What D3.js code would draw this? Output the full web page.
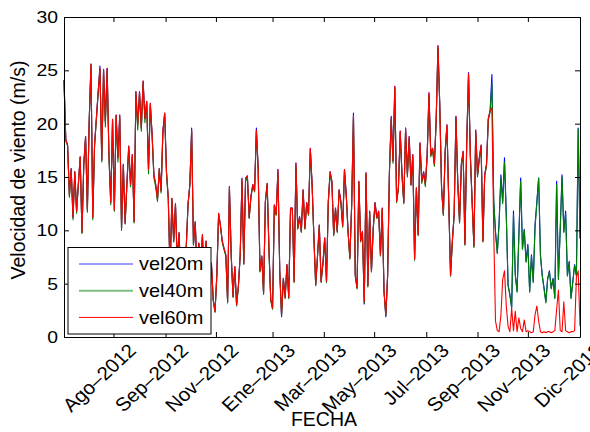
<!DOCTYPE html>
<html>
<head>
<meta charset="utf-8">
<script src="https://cdn.jsdelivr.net/npm/d3@7"></script>
<style>
  body { margin: 0; background: #fff; }
  svg { display: block; font-family: "Liberation Sans", Arial, Helvetica, sans-serif; }
</style>
</head>
<body>
<svg id="chart" width="590" height="432"></svg>
<script>
// daily-ish samples, one every 2 days starting here
const startDate = new Date(Date.UTC(2012, 5, 6));
const stepDays = 2;
const tickDays = [55, 113, 169, 232, 289, 345, 403, 460, 516, 574];
const tickLabels = ["Ago–2012", "Sep–2012", "Nov–2012", "Ene–2013", "Mar–2013",
  "May–2013", "Jul–2013", "Sep–2013", "Nov–2013", "Dic–2013"];
const yTicks = [0, 5, 10, 15, 20, 25, 30];
const seriesNames = ["vel20m", "vel40m", "vel60m"];

const vel20m = [
  24.1,18.5,18.0,13.3,15.8,11.2,15.5,11.8,14.4,16.9,9.8,16.2,18.8,11.9,20.2,25.6,11.2,18.0,20.5,23.0,
  25.4,16.6,25.1,20.2,25.2,17.1,12.6,20.4,11.9,20.8,16.8,20.8,10.2,16.2,10.7,14.4,17.9,14.3,17.1,10.8,
  23.0,19.9,23.0,19.6,24.0,20.5,22.1,15.7,21.9,19.0,15.2,14.3,12.9,15.8,13.7,19.3,21.0,15.5,13.0,6.0,
  13.0,9.0,12.5,7.0,9.8,5.0,8.0,4.0,8.5,12.5,14.3,19.6,8.7,10.8,6.0,8.8,6.5,9.6,5.0,9.0,
  6.0,7.0,6.9,3.5,2.4,5.8,11.6,10.5,9.0,8.3,7.7,3.3,14.1,7.7,3.8,6.6,3.0,4.8,7.7,14.9,
  6.9,14.9,15.1,11.2,13.2,14.3,13.7,19.6,15.8,6.2,7.6,4.1,12.7,14.4,8.2,3.5,2.7,12.4,11.5,15.7,
  6.2,1.9,5.5,3.7,6.8,3.7,12.1,12.1,5.2,16.3,10.2,11.3,9.9,13.8,10.2,12.6,11.5,17.7,14.3,9.3,
  4.9,7.6,10.5,5.2,6.9,9.3,5.2,12.7,15.5,14.6,9.6,12.1,9.9,13.8,12.7,10.4,15.7,13.3,9.9,7.4,
  12.4,21.0,5.8,4.6,14.6,9.0,9.9,3.1,15.4,4.8,11.8,6.2,10.2,12.6,11.2,11.8,7.7,12.1,4.3,1.9,
  5.8,15.5,20.7,16.5,23.5,12.7,14.0,19.3,15.2,12.6,19.6,15.2,18.8,14.3,17.1,7.3,14.0,9.6,18.2,14.6,
  15.5,14.3,17.1,22.9,17.1,17.7,16.2,20.4,27.3,21.8,14.0,11.5,17.4,19.9,12.7,5.8,9.0,11.5,20.7,14.6,
  10.8,16.2,17.4,8.7,18.3,24.8,17.1,12.7,8.5,19.4,15.2,16.8,18.0,9.0,15.2,16.2,20.5,21.2,24.6,12.7,
  9.9,7.9,10.8,15.2,12.7,16.8,11.5,4.9,4.0,2.7,11.8,5.8,4.3,9.6,14.9,8.3,10.1,7.1,8.7,4.3,
  7.7,5.2,10.5,12.7,14.9,7.7,5.8,4.6,3.3,5.5,6.2,4.6,5.5,3.7,14.6,5.5,10.2,15.2,9.9,11.8,
  5.8,7.1,3.7,5.2,6.8,5.8,19.6,9.3
];

const vel40m = [
  24.0,18.4,17.9,13.1,15.7,11.0,15.4,11.6,14.3,16.8,9.7,16.1,18.7,11.7,20.1,25.5,11.0,17.9,20.3,22.8,
  25.1,16.4,24.9,19.7,25.0,16.9,12.4,20.3,11.8,20.7,16.4,20.6,10.0,16.1,10.6,14.3,17.7,14.1,16.9,10.7,
  22.8,19.4,22.9,19.3,23.9,20.1,22.0,15.3,21.7,18.8,14.9,14.1,12.7,15.7,13.5,19.1,20.9,15.3,12.9,5.9,
  12.9,8.9,12.4,6.9,9.7,4.9,7.9,3.9,8.4,12.4,14.2,19.3,8.6,10.7,5.9,8.7,6.4,9.5,4.9,8.9,
  5.9,6.9,6.8,3.4,2.3,5.7,11.5,10.4,8.9,8.2,7.6,3.2,13.9,7.6,3.7,6.5,2.9,4.7,7.6,14.6,
  6.8,14.6,15.0,11.1,13.1,14.2,13.6,19.3,15.7,6.1,7.5,4.0,12.6,14.3,8.1,3.4,2.6,12.3,11.4,15.4,
  6.1,2.0,5.4,3.6,6.7,3.6,12.0,12.0,5.1,16.0,10.1,11.2,9.8,13.7,10.1,12.5,11.4,17.5,14.2,9.2,
  4.8,7.5,10.4,5.1,6.8,9.2,5.1,12.6,15.2,14.5,9.5,12.0,9.8,13.7,12.6,10.3,15.6,13.2,9.8,7.3,
  12.3,20.7,5.7,4.5,14.5,8.9,9.8,3.2,15.3,4.7,11.7,6.1,10.1,12.5,11.1,11.7,7.6,12.0,4.2,2.0,
  5.7,15.3,20.4,16.3,23.3,12.6,13.9,19.1,15.1,12.5,19.4,15.0,18.6,14.2,16.9,7.2,13.9,9.5,18.0,14.4,
  15.3,14.1,16.9,22.7,16.9,17.5,16.0,20.2,27.1,21.6,13.9,11.4,17.3,19.7,12.6,5.7,8.9,11.4,20.5,14.4,
  10.7,16.0,17.2,8.6,18.1,24.5,16.9,12.6,8.4,19.2,15.0,16.6,17.8,8.9,15.1,16.0,20.3,21.1,23.8,12.9,
  9.7,7.8,10.6,14.9,12.5,16.4,11.3,4.8,3.9,2.8,11.5,5.9,4.2,9.4,14.6,8.2,10.0,7.0,8.5,4.2,
  7.6,5.1,10.3,12.5,14.9,7.6,5.7,4.5,3.2,5.4,6.1,4.5,5.4,3.6,14.3,5.4,10.0,15.0,9.8,11.6,
  5.7,7.0,3.6,5.1,6.7,5.7,19.5,9.2
];

const vel60m = [
  24.1,18.5,18.0,13.3,15.8,11.2,15.5,11.8,14.4,16.9,9.8,16.2,18.8,11.9,20.2,25.6,11.2,18.0,20.5,23.0,
  25.2,16.6,25.1,20.2,25.2,17.1,12.6,20.4,11.9,20.8,16.8,20.8,10.2,16.2,10.7,14.4,17.9,14.3,17.1,10.8,
  23.0,19.9,23.0,19.6,24.0,20.5,22.1,15.7,21.9,19.0,15.2,14.3,12.9,15.8,13.7,19.3,21.0,15.5,13.0,6.0,
  13.0,9.0,12.5,7.0,9.8,5.0,8.0,4.0,8.5,12.5,14.3,19.4,8.7,10.8,6.0,8.8,6.5,9.6,5.0,9.0,
  6.0,7.0,6.9,3.5,2.4,5.8,11.6,10.5,9.0,8.3,7.7,3.3,14.1,7.7,3.8,6.6,3.0,4.8,7.7,14.8,
  6.9,14.9,15.1,11.2,13.2,14.3,13.7,19.4,15.8,6.2,7.6,4.1,12.7,14.4,8.2,3.5,2.7,12.4,11.5,15.7,
  6.2,2.1,5.5,3.7,6.8,3.7,12.1,12.1,5.2,16.3,10.2,11.3,9.9,13.8,10.2,12.6,11.5,17.7,14.3,9.3,
  4.9,7.6,10.5,5.2,6.9,9.3,5.2,12.7,15.5,14.6,9.6,12.1,9.9,13.8,12.7,10.4,15.7,13.3,9.9,7.4,
  12.4,20.8,5.8,4.6,14.6,9.0,9.9,3.3,15.4,4.8,11.8,6.2,10.2,12.6,11.2,11.8,7.7,12.1,4.3,2.1,
  5.8,15.5,20.5,16.5,23.5,12.7,14.0,19.3,15.2,12.6,19.6,15.2,18.8,14.3,17.1,7.3,14.0,9.6,18.2,14.6,
  15.5,14.3,17.1,22.9,17.1,17.7,16.2,20.4,27.3,21.8,14.0,11.5,17.4,19.9,12.7,5.8,9.0,11.5,20.7,14.6,
  10.8,16.2,17.4,8.7,18.3,24.7,17.1,12.7,8.5,19.4,15.2,16.8,18.0,9.0,15.2,16.2,20.5,21.2,21.5,10.0,
  1.5,0.6,0.5,2.0,5.4,6.2,2.9,1.0,0.5,2.7,0.6,2.4,0.5,1.8,0.8,0.5,1.6,0.5,0.6,0.5,
  0.4,0.5,2.1,2.9,1.5,0.5,0.4,0.5,0.4,0.5,0.5,0.4,0.5,0.6,2.6,4.4,0.6,0.5,3.3,0.6,
  0.5,0.4,0.5,0.5,0.6,5.6,6.2,1.0
];

const svg = d3.select("#chart");
const plotLeft = 64, plotRight = 580, plotTop = 17, plotBottom = 337;
const stretch = "scale(1.14,1)";

const dateOf = (d) => d3.utcDay.offset(startDate, d);
const dates = vel20m.map((_, i) => dateOf(i * stepDays));

const x = d3.scaleUtc()
  .domain([dates[0], dates[dates.length - 1]])
  .range([plotLeft, plotRight]);

const y = d3.scaleLinear().domain([0, 30]).range([plotBottom, plotTop]);

// lines: 20m first, 60m on top (matlab plot order)
const series = [
  { name: seriesNames[0], values: vel20m, color: "#0000ff" },
  { name: seriesNames[1], values: vel40m, color: "#008000" },
  { name: seriesNames[2], values: vel60m, color: "#ff0000" }
];

const line = d3.line()
  .x((d, i) => x(dates[i]))
  .y((d) => y(d));

svg.append("g")
  .selectAll("path")
  .data(series)
  .enter()
  .append("path")
  .attr("d", (s) => line(s.values))
  .attr("fill", "none")
  .attr("stroke", (s) => s.color)
  .attr("stroke-width", 1.1)
  .attr("stroke-linejoin", "round");

// axes box with inward ticks
const tickDates = tickDays.map(dateOf);

const xBottom = svg.append("g")
  .attr("transform", `translate(0,${plotBottom})`)
  .call(d3.axisBottom(x).tickValues(tickDates).tickSize(-5).tickSizeOuter(0).tickFormat(""));
xBottom.selectAll(".tick text").remove();
xBottom.selectAll(".tick")
  .append("text")
  .attr("transform", "translate(13,5) scale(1.08,1) rotate(-45)")
  .attr("text-anchor", "end")
  .attr("dy", "0.72em")
  .attr("fill", "#000")
  .style("font-size", "19px")
  .style("font-family", "inherit")
  .text((d, i) => tickLabels[i]);

svg.append("g")
  .attr("transform", `translate(0,${plotTop})`)
  .call(d3.axisTop(x).tickValues(tickDates).tickSize(-5).tickSizeOuter(0).tickFormat(""));

const yLeft = svg.append("g")
  .attr("transform", `translate(${plotLeft},0)`)
  .call(d3.axisLeft(y).tickValues(yTicks).tickSize(-5).tickSizeOuter(0).tickPadding(6));
yLeft.selectAll(".tick text")
  .attr("x", 0)
  .attr("transform", `translate(-6,0) ${stretch}`)
  .attr("fill", "#000")
  .style("font-size", "17px")
  .style("font-family", "inherit");

svg.append("g")
  .attr("transform", `translate(${plotRight},0)`)
  .call(d3.axisRight(y).tickValues(yTicks).tickSize(-5).tickSizeOuter(0).tickFormat(""));

svg.selectAll(".domain").attr("stroke", "#000");
svg.selectAll(".tick line").attr("stroke", "#000");

// axis titles
svg.append("text")
  .attr("transform", "translate(25,170) rotate(-90)")
  .attr("text-anchor", "middle")
  .style("font-size", "19.5px")
  .text("Velocidad de viento (m/s)");

svg.append("text")
  .attr("x", 324)
  .attr("y", 426)
  .attr("text-anchor", "middle")
  .style("font-size", "19.5px")
  .text("FECHA");

// legend
const legend = svg.append("g").attr("transform", "translate(68,247.5)");
legend.append("rect")
  .attr("width", 143)
  .attr("height", 86.5)
  .attr("fill", "#fff")
  .attr("stroke", "#000");

const legendColors = ["#3a3aff", "#7fbf7f", "#ff0000"];
const legendWidths = [1, 2, 1];
const row = legend.selectAll(".row")
  .data(seriesNames)
  .enter()
  .append("g")
  .attr("transform", (d, i) => `translate(0,${16.5 + i * 26.7})`);
row.append("line")
  .attr("x1", 11).attr("x2", 65)
  .attr("stroke", (d, i) => legendColors[i])
  .attr("stroke-width", (d, i) => legendWidths[i]);
row.append("text")
  .attr("x", 71 / 1.14)
  .attr("dy", "0.36em")
  .style("font-size", "17.5px")
  .attr("transform", "scale(1.14,1)")
  .text((d) => d);
</script>
</body>
</html>
